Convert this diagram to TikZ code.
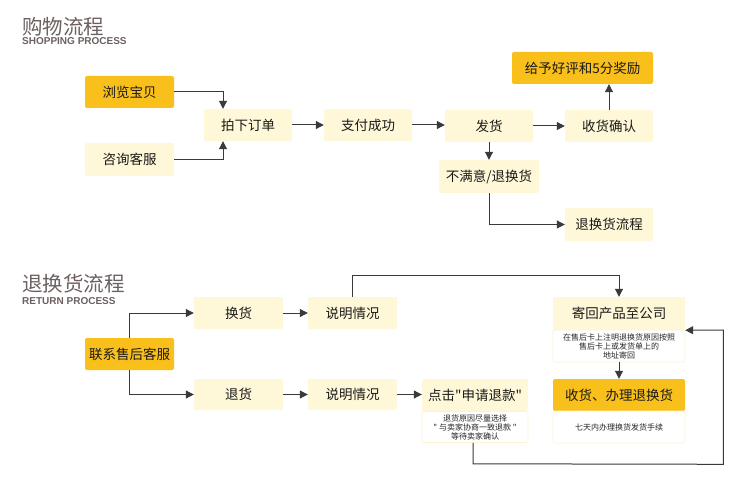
\documentclass[tikz,border=0pt]{standalone}
\usepackage{fontspec}
\setmainfont{Noto Sans CJK SC}
\newfontfamily\cjkraw{Noto Sans CJK SC}
\newfontfamily\latinbold{Liberation Sans}
\usetikzlibrary{arrows.meta}
\newcommand\dqt{{\cjkraw\char34\relax}}
\definecolor{lightbox}{HTML}{FEF8D8}
\definecolor{orangebox}{HTML}{F9BF1B}
\definecolor{titlecol}{HTML}{6C6060}
\definecolor{subborder}{HTML}{FBF3D2}
\definecolor{linecol}{HTML}{3A3A3A}
\tikzset{
  box/.style={fill=lightbox, rounded corners=2pt, inner sep=0pt, minimum height=32pt, minimum width=89pt, font=\fontsize{13.5}{14}\selectfont, text=black!90},
  obox/.style={box, fill=orangebox},
  subbox/.style={draw=subborder, fill=white, line width=0.6pt, rounded corners=2pt, inner sep=0pt, minimum height=31pt, align=center, font=\fontsize{8}{9}\selectfont, text=black!85},
  arr/.style={draw=linecol, line width=1pt, -{Triangle[length=8pt,width=8pt]}},
  bigtitle/.style={font=\fontsize{20.5}{22}\selectfont, text=titlecol, inner sep=0pt, anchor=base west},
  subtitle/.style={font=\latinbold\bfseries\fontsize{10}{10}\selectfont, text=titlecol, inner sep=0pt, anchor=base west}
}
\begin{document}
\begin{tikzpicture}[x=1pt,y=-1pt]
\useasboundingbox[fill=white] (0,0) rectangle (750,484);
% titles
\node[bigtitle] (t1) at (22,35) {购物流程};
\node[subtitle] (t1s) at (22,45) {SHOPPING PROCESS};
\node[bigtitle] (t2) at (22,291) {退换货流程};
\node[subtitle] (t2s) at (22,304) {RETURN PROCESS};
% shopping
\node[obox] (browse) at (129.5,92) {浏览宝贝};
\node[box, minimum height=33pt] (consult) at (129.5,159.5) {咨询客服};
\node[box, minimum width=88pt] (order) at (248,125) {拍下订单};
\node[box, minimum width=88pt] (pay) at (368,125) {支付成功};
\node[box, minimum width=88pt] (ship) at (489,126) {发货};
\node[box, minimum width=88pt] (confirm) at (609,126) {收货确认};
\node[obox, minimum width=141pt] (review) at (582.5,68) {给予好评和5分奖励};
\node[box, minimum width=100pt, minimum height=33pt] (unsat) at (489,176.5) {不满意/退换货};
\node[box, minimum width=88pt, minimum height=33pt] (rflow) at (609,224.5) {退换货流程};
\draw[arr] (browse.east) -| ([xshift=-25pt]order.north);
\draw[arr] (consult.east) -| ([xshift=-25pt]order.south);
\draw[arr] (order) -- (pay);
\draw[arr] (pay.east) -- (pay.east -| ship.west);
\draw[arr] (ship) -- (confirm);
\draw[arr] (confirm.north) -- (confirm.north |- review.south);
\draw[arr] (ship) -- (unsat);
\draw[arr] (unsat.south) |- (rflow.west);
% return
\node[obox, minimum height=32pt] (contact) at (129.5,354) {联系售后客服};
\node[box] (exch) at (238.5,313) {换货};
\node[box, minimum height=31pt] (retg) at (238.5,394.5) {退货};
\node[box] (desc1) at (352.5,313) {说明情况};
\node[box, minimum height=31pt] (desc2) at (352.5,394.5) {说明情况};
\node[box, minimum width=106pt] (click) at (475,395) {点击\dqt 申请退款\dqt};
\node[subbox, minimum width=106pt] (clicksub) at (475,427) {退货原因尽量选择\\\dqt\ 与卖家协商一致退款 \dqt\\等待卖家确认};
\node[box, minimum width=132pt, minimum height=33pt] (send) at (619,313.5) {寄回产品至公司};
\node[subbox, minimum width=132pt, minimum height=32pt] (sendsub) at (619,346) {在售后卡上注明退换货原因按照\\售后卡上或发货单上的\\地址寄回};
\node[obox, minimum width=132pt] (recv) at (619,395) {收货、办理退换货};
\node[subbox, minimum width=132pt, minimum height=32pt] (recvsub) at (619,427) {七天内办理换货发货手续};
\draw[arr] (contact.north) |- (exch.west);
\draw[arr] (contact.south) |- (retg.west);
\draw[arr] (exch) -- (desc1);
\draw[arr] (retg) -- (desc2);
\draw[arr] (desc2.east) -- (desc2.east -| click.west);
\coordinate (up1) at ([yshift=21pt]desc1.north);
\draw[arr] (desc1.north) -- (up1) -| (send.north);
\draw[arr] (sendsub.south) -- (recv.north);
\coordinate (lp1) at ([xshift=-2pt,yshift=-21pt]clicksub.south);
\coordinate (lp2) at ([xshift=38pt,yshift=-21pt]recvsub.south east);
\draw[arr] ([xshift=-2pt]clicksub.south) -- (lp1) -- (lp2) |- (send.south east);
\end{tikzpicture}
\end{document}
